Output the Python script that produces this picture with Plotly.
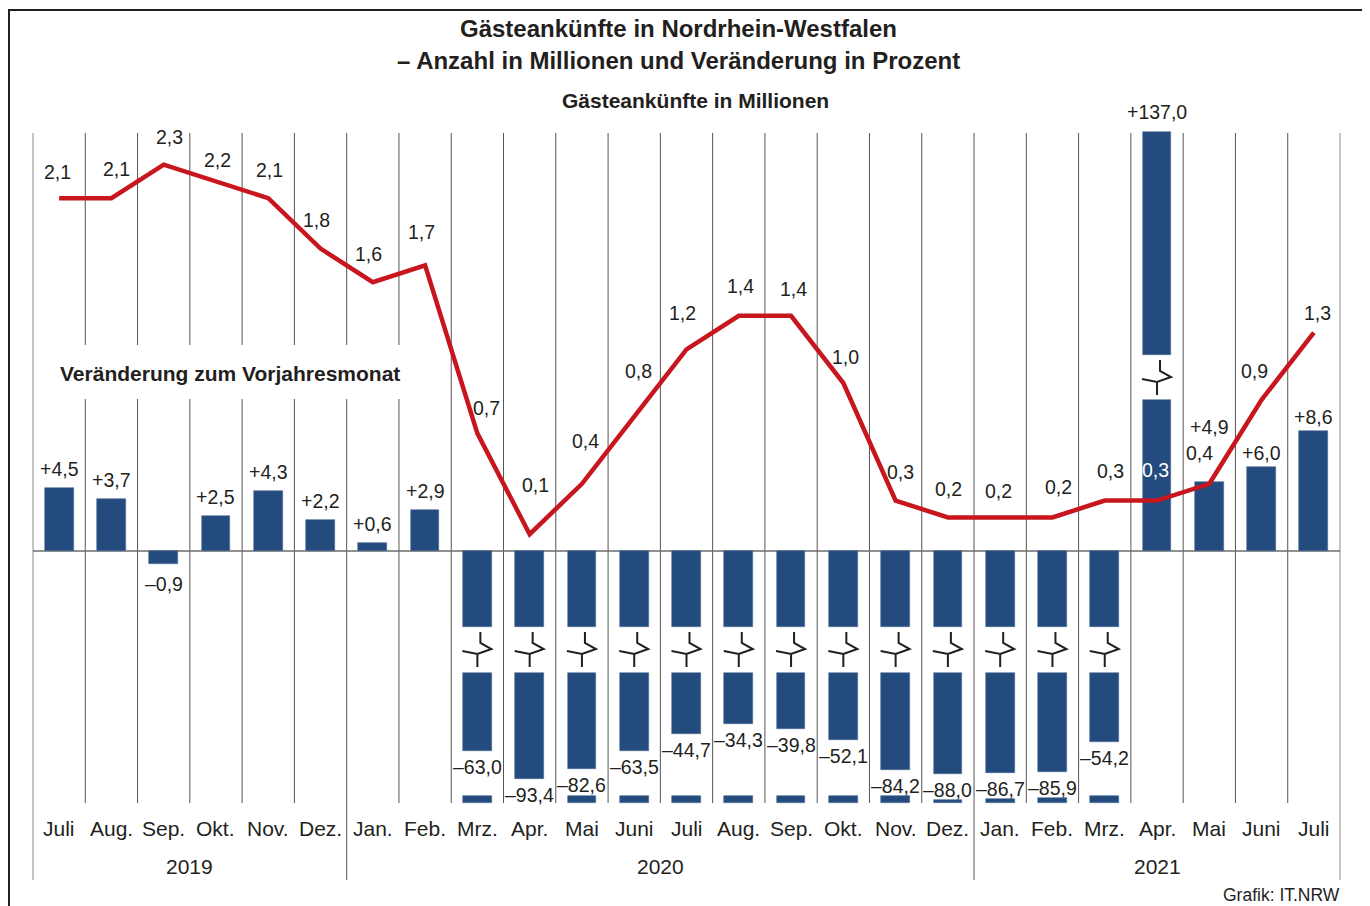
import plotly.graph_objects as go

# ---------------- data ----------------
months = ["Juli", "Aug.", "Sep.", "Okt.", "Nov.", "Dez.",
          "Jan.", "Feb.", "Mrz.", "Apr.", "Mai", "Juni", "Juli", "Aug.", "Sep.", "Okt.", "Nov.", "Dez.",
          "Jan.", "Feb.", "Mrz.", "Apr.", "Mai", "Juni", "Juli"]
years = ["2019", "2020", "2021"]
year_first_month = [0, 6, 18]
year_last_month = [5, 17, 24]
arrivals_mio = [2.1, 2.1, 2.3, 2.2, 2.1, 1.8,
                1.6, 1.7, 0.7, 0.1, 0.4, 0.8, 1.2, 1.4, 1.4, 1.0, 0.3, 0.2,
                0.2, 0.2, 0.3, 0.3, 0.4, 0.9, 1.3]
change_pct = [4.5, 3.7, -0.9, 2.5, 4.3, 2.2,
              0.6, 2.9, -63.0, -93.4, -82.6, -63.5, -44.7, -34.3, -39.8, -52.1, -84.2, -88.0,
              -86.7, -85.9, -54.2, 137.0, 4.9, 6.0, 8.6]

# ---------------- layout / scale constants (page pixel based) ----------------
PAGE_W, PAGE_H = 1370, 906
BODY_OFF = 8            # default page margin around the figure
W, H = PAGE_W - BODY_OFF, PAGE_H - BODY_OFF
STEP = 52.28            # px per month
X_CENTER0 = 59.14       # page px of first month centre
ZERO_PY = 551           # page px of zero line
PX_PER_PCT = 14.0       # regular part of bar scale
PX_PER_MIO = 168.0      # line scale
BREAK_LIMIT = 10        # values beyond are drawn with a broken axis
NEG_UPPER = 76
NEG_LOWER_START = 122
NEG_BREAK_C = 99
NEG_OFF, NEG_K = 141.0, 0.93
POS_LOWER = 151
POS_UPPER_START = 196
POS_BREAK_C = 173
POS_K = 1.767
PLOT_BOTTOM_PY = 803
GRID_TOP_PY = 133
YEAR_SEP_BOTTOM_PY = 880

FONT = "Liberation Sans, Arial, Helvetica, sans-serif"
TXT = "#231f20"
BAR = "#234b7d"
RED = "#c8161e"
NUM_SIZE = 19.5


def xd(px):
    return (px - X_CENTER0) / STEP


def yd(py):
    return ZERO_PY - py


def de(v, sign=False):
    s = f"{abs(v):.1f}".replace(".", ",")
    if sign:
        return ("+" if v > 0 else "\u2013") + s
    return s


n = len(months)
idx = list(range(n))

# ---------------- bars (broken axis transform) ----------------
main_base, main_h = [], []
seg2_base, seg2_h = [], []
stub_base, stub_h = [], []
bar_label = []
breaks = []

for i, v in enumerate(change_pct):
    if abs(v) < BREAK_LIMIT:
        main_base.append(0)
        main_h.append(v * PX_PER_PCT)
        seg2_base.append(None); seg2_h.append(None)
        stub_base.append(None); stub_h.append(None)
        top = v * PX_PER_PCT
        if v >= 0:
            off = 19
            if i == 22:
                off = 55
            elif i >= 23:
                off = 14
            bar_label.append((i, top + off, de(v, True)))
        else:
            bar_label.append((i, top - 20, de(v, True)))
    elif v < 0:
        end = NEG_OFF + NEG_K * abs(v)
        main_base.append(0); main_h.append(-NEG_UPPER)
        seg2_base.append(-NEG_LOWER_START); seg2_h.append(-(end - NEG_LOWER_START))
        lab_py = ZERO_PY + end + 16
        bar_label.append((i, yd(lab_py), de(v, True)))
        stub_top = max(796, lab_py + 10)
        if stub_top < PLOT_BOTTOM_PY - 1:
            stub_base.append(yd(PLOT_BOTTOM_PY)); stub_h.append(yd(stub_top) - yd(PLOT_BOTTOM_PY))
        else:
            stub_base.append(None); stub_h.append(None)
        breaks.append((i, -NEG_BREAK_C))
    else:
        top = POS_UPPER_START + POS_K * (v - POS_LOWER / PX_PER_PCT)
        main_base.append(0); main_h.append(POS_LOWER)
        seg2_base.append(POS_UPPER_START); seg2_h.append(top - POS_UPPER_START)
        stub_base.append(None); stub_h.append(None)
        bar_label.append((i, top + 20, de(v, True)))
        breaks.append((i, POS_BREAK_C))

fig = go.Figure()
for b, h in [(main_base, main_h), (seg2_base, seg2_h), (stub_base, stub_h)]:
    fig.add_trace(go.Bar(x=idx, y=h, base=b, width=0.55,
                         marker=dict(color=BAR, line=dict(width=0.6, color="#4f6f99")),
                         hoverinfo="skip", showlegend=False))

line_y = [v * PX_PER_MIO for v in arrivals_mio]
fig.add_trace(go.Scatter(x=idx, y=line_y, mode="lines",
                         line=dict(color=RED, width=4.5), hoverinfo="skip", showlegend=False))

# ---------------- shapes ----------------
shapes = []
for k in range(n + 1):
    px = 33 + STEP * k
    bottom = YEAR_SEP_BOTTOM_PY if k in (0, 6, 18, 25) else PLOT_BOTTOM_PY
    col = "#8a8a8a" if k in (0, 25) else "#555555"
    shapes.append(dict(type="line", layer="below", xref="x", yref="y",
                       x0=xd(px), x1=xd(px), y0=yd(GRID_TOP_PY), y1=yd(bottom),
                       line=dict(color=col, width=1)))
shapes.append(dict(type="rect", layer="below", xref="x", yref="y",
                   x0=xd(35), x1=xd(403), y0=yd(399), y1=yd(345),
                   fillcolor="white", line=dict(width=0)))
shapes.append(dict(type="line", layer="below", xref="x", yref="y",
                   x0=xd(33), x1=xd(1340), y0=0, y1=0,
                   line=dict(color="#6d6d6d", width=1.5)))


def P(i, yc, dx, dy):
    return f"{i + dx / STEP:.4f},{yc - dy:.2f}"


for i, yc in breaks:
    path = ("M " + P(i, yc, 3, -18) + " L " + P(i, yc, 3, -7) + " L " + P(i, yc, 14, -1)
            + " L " + P(i, yc, 0, 4) + " L " + P(i, yc, -15, 1)
            + " M " + P(i, yc, 0, 4) + " L " + P(i, yc, 0, 17))
    shapes.append(dict(type="path", layer="above", xref="x", yref="y", path=path,
                       line=dict(color=TXT, width=2)))
shapes.append(dict(type="rect", layer="above", xref="x", yref="y",
                   x0=xd(9), x1=xd(1366), y0=yd(1000), y1=yd(10),
                   line=dict(color=TXT, width=2)))

# ---------------- annotations ----------------
ann = []


def text(x, y, s, size=19, bold=False, color=TXT, xanchor="center", xshift=0, yshift=0):
    ann.append(dict(x=x, y=y, xref="x", yref="y", text=("<b>%s</b>" % s) if bold else s,
                    showarrow=False, xanchor=xanchor, yanchor="middle",
                    xshift=xshift, yshift=yshift,
                    font=dict(family=FONT, size=size, color=color)))


text(xd(678), yd(28), "Gästeankünfte in Nordrhein-Westfalen", 24, True)
text(xd(678), yd(60), "\u2013 Anzahl in Millionen und Veränderung in Prozent", 24, True)
text(xd(695), yd(100), "Gästeankünfte in Millionen", 21, True)
text(xd(58), yd(373), "Veränderung zum Vorjahresmonat", 21, True, xanchor="left")
text(xd(1342), yd(895), "Grafik: IT.NRW", 17.5, xanchor="right")

for i, m in enumerate(months):
    text(i, yd(828), m, 21)
for yname, a, b in zip(years, year_first_month, year_last_month):
    text((a + b) / 2, yd(866), yname, 21)

for i, y, s in bar_label:
    text(i, y, s, NUM_SIZE)

LINE_LABEL_OFFSETS = [(-2, -26), (5, -29), (6, -28), (2, -21), (1, -28), (-4, -29),
                      (-4, -28), (-4, -33), (9, -25), (6, -49), (4, -43), (4, -46),
                      (-4, -36), (2, -30), (2, -27), (2, -26), (5, -29), (1, -28),
                      (-2, -26), (6, -30), (6, -30), (-2, -31), (-10, -31), (-7, -29), (4, -20)]
for i, v in enumerate(arrivals_mio):
    dx, dy = LINE_LABEL_OFFSETS[i]
    col = "white" if change_pct[i] >= BREAK_LIMIT else TXT
    text(i, v * PX_PER_MIO, de(v), NUM_SIZE, color=col, xshift=dx, yshift=-dy)

fig.update_layout(
    width=W, height=H, autosize=False,
    margin=dict(l=0, r=0, t=0, b=0),
    paper_bgcolor="white", plot_bgcolor="white",
    barmode="overlay", bargap=0,
    xaxis=dict(range=[xd(BODY_OFF), xd(PAGE_W)], visible=False, fixedrange=True),
    yaxis=dict(range=[yd(PAGE_H), yd(BODY_OFF)], visible=False, fixedrange=True),
    shapes=shapes, annotations=ann, showlegend=False,
)

fig.write_html("out.html", config={"displayModeBar": False})
